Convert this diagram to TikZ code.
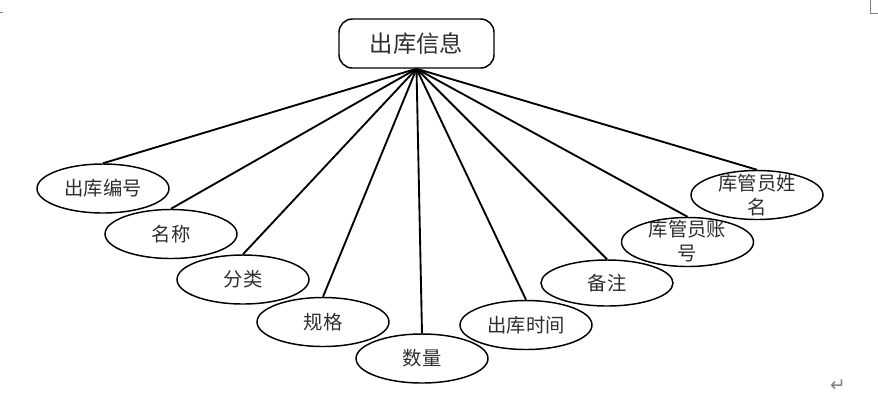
\documentclass[tikz,border=0pt]{standalone}
\usepackage{fontspec}
\newfontfamily\cjk{Noto Sans CJK SC}
\newfontfamily\symfont{DejaVu Sans}
\usetikzlibrary{shapes.geometric}
\begin{document}
\begin{tikzpicture}[x=0.75pt,y=-0.75pt,
  topbox/.style={draw=black,line width=1.1pt,rounded corners=10pt,minimum width=155*0.75pt,minimum height=49*0.75pt,inner sep=0pt},
  attr/.style={draw=black,line width=1.1pt,ellipse,minimum width=132*0.75pt,minimum height=49*0.75pt,inner sep=0pt},
  attrtext/.style={font=\cjk\fontsize{14.5pt}{18pt}\selectfont,text=black!82,align=center,inner sep=0pt},
  link/.style={line width=1.4pt,black},
  cropmark/.style={gray,line width=0.6pt}]
\useasboundingbox (0,0) rectangle (878,405);
\node[topbox] (top) at (416.5,43.5) {};
\node[font=\cjk\fontsize{17.5pt}{20pt}\selectfont,text=black!82,inner sep=0pt] (toptext) at (416.5,43.5) {出库信息};
\node[attr] (e1) at (103,188.5) {};
\node[attr] (e2) at (171,234) {};
\node[attr] (e3) at (243,279.5) {};
\node[attr] (e4) at (323,322) {};
\node[attr] (e5) at (422,358.5) {};
\node[attr] (e6) at (526,325) {};
\node[attr,minimum height=46*0.75pt] (e7) at (607,283) {};
\node[attr] (e8) at (687.5,242) {};
\node[attr] (e9) at (757,195) {};
\node[attrtext] (t1) at (e1.center) {出库编号};
\node[attrtext] (t2) at (e2.center) {名称};
\node[attrtext] (t3) at (e3.center) {分类};
\node[attrtext] (t4) at (e4.center) {规格};
\node[attrtext] (t5) at (e5.center) {数量};
\node[attrtext] (t6) at (e6.center) {出库时间};
\node[attrtext] (t7) at (e7.center) {备注};
\node[attrtext] (t8) at (687.5,241.5) {库管员账\\号};
\node[attrtext] (t9) at (757,195.5) {库管员姓\\名};
\foreach \e in {e1,e2,e3,e4,e5,e6,e7,e8,e9}
  \draw[link] (top.south) -- (\e.north);
\coordinate (m1a) at (0,12); \coordinate (m1b) at (3,12);
\draw[cropmark] (m1a) -- (m1b);
\coordinate (m2a) at (870,0); \coordinate (m2b) at (870,13); \coordinate (m2c) at (878,13);
\draw[cropmark] (m2a) -- (m2b) -- (m2c);
\node[font=\symfont\fontsize{14pt}{15pt}\selectfont,text=gray,inner sep=0pt] (ret) at (838,386) {↵};
\end{tikzpicture}
\end{document}
